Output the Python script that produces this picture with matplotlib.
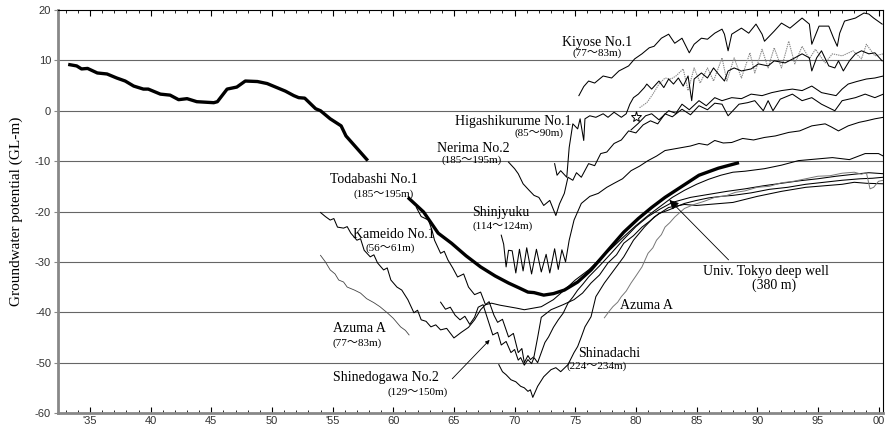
import matplotlib
matplotlib.use("Agg")
import matplotlib.pyplot as plt

# ---- data (year after 1900, groundwater potential GL-m) ----
early_year = [33.2, 33.9, 34.3, 34.8, 35.6, 36.4, 37.2, 37.9, 38.6, 39.4, 39.8, 40.8, 41.6, 42.3, 43.0, 43.8,
              45.2, 45.5, 46.3, 47.1, 47.8, 48.8, 49.6, 50.4, 51.1, 51.8, 52.2, 52.7, 53.6, 54.0, 54.8, 55.7,
              56.1, 57.9]
early_val = [9.2, 8.9, 8.3, 8.4, 7.5, 7.3, 6.5, 5.9, 4.9, 4.3, 4.3, 3.3, 3.1, 2.2, 2.4, 1.8,
             1.6, 1.8, 4.3, 4.7, 5.9, 5.8, 5.4, 4.6, 3.9, 3.0, 2.6, 2.5, 0.4, 0.0, -1.6, -3.0,
             -5.0, -9.9]

tokyo_year = [61.2, 62.5, 63.7, 64.8, 66.0, 67.2, 68.4, 69.5, 70.4, 71.1, 71.6, 72.4, 73.2, 74.1, 75.2,
              76.3, 77.7, 79.0, 80.2, 81.3, 82.4, 83.8, 85.2, 86.8, 88.5]
tokyo_val = [-17.2, -20.1, -24.3, -26.3, -28.8, -31.0, -32.8, -34.2, -35.2, -36.0, -36.1, -36.6, -36.3, -35.6,
             -34.0, -31.6, -27.7, -24.1, -21.4, -19.2, -17.2, -15.0, -12.8, -11.4, -10.3]

kiyose_year = [75.3, 75.7, 76.1, 76.6, 77.3, 78.0, 78.6, 79.4, 79.9, 80.5, 81.1, 81.5, 82.1, 82.7, 83.2, 83.8,
               84.4, 84.8, 85.4, 85.9, 86.5, 87.1, 87.3, 87.6, 87.9, 88.7, 89.3, 89.9, 90.4, 90.6, 91.4, 92.0,
               92.7, 93.1, 93.7, 94.3, 94.5, 95.1, 95.9, 96.3, 96.6, 96.8, 97.2, 98.1, 98.8, 99.2, 99.6, 100.3]
kiyose_val = [3.0, 4.8, 5.9, 5.5, 6.9, 6.5, 7.9, 8.9, 10.3, 11.3, 12.5, 12.8, 14.4, 15.2, 13.4, 14.4,
              11.5, 13.2, 14.4, 14.2, 15.4, 16.2, 15.2, 11.9, 15.2, 16.4, 15.4, 17.2, 15.2, 13.8, 15.8, 17.4,
              16.4, 17.2, 18.4, 17.2, 13.2, 16.8, 16.8, 14.4, 12.8, 15.4, 17.8, 18.4, 19.4, 19.2, 18.4, 17.2]

higashi_year = [73.3, 73.5, 73.8, 74.3, 74.5, 74.8, 75.2, 75.4, 75.7, 75.8, 76.2, 76.7, 77.3, 77.7, 78.2, 78.8,
                79.2, 79.5, 79.8, 80.2, 80.7, 80.9, 81.3, 81.9, 82.3, 82.7, 83.1, 83.5, 83.9, 84.3, 84.6, 84.8,
                85.4, 85.9, 86.4, 86.8, 87.3, 87.6, 88.1, 88.7, 89.5, 90.1, 90.9, 91.4, 92.3, 93.1, 93.7, 94.3,
                94.5, 94.9, 95.3, 95.9, 96.4, 96.7, 97.1, 97.6, 98.1, 98.6, 99.2, 99.7, 100.3]
higashi_val = [-10.5, -12.8, -11.9, -13.2, -7.3, -2.6, -3.6, -1.6, -5.9, -1.6, -1.0, -1.3, -0.6, -1.3, -0.3, -1.3,
               -0.6, 1.3, 2.6, 3.3, 4.6, 5.3, 4.3, 5.9, 4.6, 6.3, 5.3, 6.5, 4.9, 6.9, 2.0, 6.3,
               7.5, 6.5, 8.5, 7.3, 5.9, 7.9, 8.5, 7.9, 8.3, 9.3, 8.9, 9.9, 9.5, 10.5, 11.3, 10.5,
               7.9, 10.5, 11.9, 8.9, 8.5, 9.9, 7.9, 9.9, 11.3, 11.9, 11.3, 11.5, 9.9]

dotted_year = [80.3, 80.9, 81.4, 81.9, 82.4, 82.9, 83.3, 83.9, 84.3, 84.8, 85.3, 85.9, 86.4, 87.1, 87.5, 88.1,
               88.7, 89.4, 89.8, 90.4, 90.9, 91.4, 92.0, 92.6, 93.1, 93.7, 94.3, 94.8, 95.6, 96.2, 97.0, 97.9,
               98.6, 99.0, 99.7, 100.4]
dotted_val = [0.6, 1.6, 3.3, 5.3, 6.5, 6.3, 6.9, 8.3, 4.0, 8.5, 5.5, 8.5, 5.9, 10.5, 5.9, 10.5,
              6.5, 11.5, 7.5, 12.2, 8.5, 12.5, 8.5, 13.8, 9.3, 12.8, 10.3, 12.2, 9.5, 11.3, 10.9, 11.9,
              10.3, 13.2, 10.9, 11.3]

upper_year = [79.6, 80.2, 80.8, 81.3, 81.9, 82.7, 83.3, 83.8, 84.4, 85.2, 85.8, 86.5, 87.1, 87.9, 88.7, 89.5,
              90.4, 91.2, 92.0, 92.9, 93.7, 94.5, 95.3, 95.9, 96.5, 97.0, 97.5, 98.2, 99.0, 99.7, 100.4]
upper_val = [-3.8, -2.5, -1.0, -0.6, -1.8, 0.0, -0.5, 1.3, 0.2, 2.0, 1.0, 2.6, 2.0, 2.6, 2.4, 3.3,
             3.0, 3.6, 4.0, 4.3, 4.0, 4.9, 3.6, 3.3, 3.0, 4.3, 5.3, 5.8, 6.3, 6.5, 6.9]

nerima_year = [69.5, 70.0, 70.3, 70.7, 71.2, 71.6, 72.0, 72.4, 72.9, 73.4, 73.7, 74.1, 74.4, 74.8, 75.1, 75.5,
               76.1, 76.6, 77.1, 77.6, 78.2, 78.8, 79.4, 80.0, 80.6, 81.2, 81.8, 82.4, 83.0, 83.8, 84.5, 85.2,
               85.9, 86.5, 87.1, 87.6, 88.5, 89.2, 89.8, 90.5, 90.9, 91.3, 91.9, 92.9, 93.7, 94.5, 95.3, 96.4,
               97.0, 98.1, 98.9, 99.7, 100.4]
nerima_val = [-10.2, -11.5, -12.5, -14.5, -15.8, -16.8, -17.2, -18.8, -17.8, -20.8, -18.5, -16.4, -13.2, -13.8,
              -12.3, -13.2, -10.5, -10.9, -8.5, -8.2, -6.5, -5.8, -4.0, -4.4, -2.8, -2.0, -2.6, -0.6, -1.2, 0.3,
              -0.8, 1.0, 0.2, 1.5, 1.3, -1.0, 1.3, 1.6, 2.0, 0.0, 2.0, 0.0, 2.3, 3.3, 2.0, 2.6, 1.3, 0.0,
              2.0, 2.6, 3.3, 2.6, 3.3]

shinjyuku_year = [68.9, 69.1, 69.3, 69.5, 69.8, 70.1, 70.4, 70.7, 71.0, 71.4, 71.8, 72.2, 72.6, 72.9, 73.3, 73.6,
                  73.9, 74.2, 74.5, 74.9, 75.5, 76.2, 76.9, 77.6, 78.2, 78.9, 79.6, 80.3, 81.0, 81.7, 82.4, 83.1,
                  83.8, 84.5, 85.2, 85.9, 86.5, 87.2, 87.9, 88.8, 89.7, 90.6, 91.5, 92.6, 93.5, 94.5, 95.6, 96.1,
                  96.7, 97.5, 98.4, 99.0, 99.7, 100.4]
shinjyuku_val = [-24.7, -26.5, -31.0, -27.7, -27.8, -32.2, -27.5, -31.8, -27.2, -32.4, -27.5, -32.0, -28.5, -32.2,
                 -27.4, -31.5, -27.6, -30.0, -25.7, -21.7, -18.4, -17.0, -16.4, -15.2, -14.4, -13.5, -11.9, -11.0,
                 -9.9, -9.0, -7.9, -7.6, -7.3, -7.0, -6.5, -6.8, -5.9, -6.4, -6.3, -5.5, -5.8, -5.3, -5.0, -4.3,
                 -4.0, -3.0, -2.6, -3.2, -4.0, -3.0, -2.3, -2.0, -1.6, -1.3]

kameido_year = [54.0, 54.4, 54.8, 55.1, 55.4, 55.9, 56.2, 56.5, 57.0, 57.3, 57.6, 58.1, 58.4, 58.7, 59.2, 59.5,
                59.8, 60.3, 60.7, 61.2, 61.7, 62.0, 62.3, 62.7, 63.1, 63.5, 63.9, 64.4, 65.0, 65.6, 66.2, 66.7,
                67.2, 67.6, 68.1, 68.8, 69.5, 70.2, 70.8, 71.5, 72.2, 73.2, 74.1, 75.0, 76.1, 77.0, 78.0, 79.0,
                80.0, 81.0, 82.0, 83.0, 84.0, 85.0, 86.0, 87.0, 88.0, 89.0, 90.6, 92.0, 93.4, 94.8, 96.2, 97.6,
                98.9, 100.0, 100.4]
kameido_val = [-20.2, -21.0, -21.7, -21.4, -23.1, -23.3, -23.0, -24.3, -25.7, -25.4, -27.7, -29.0, -28.6, -30.2,
               -31.6, -31.2, -33.6, -35.0, -35.6, -37.5, -40.1, -39.6, -41.5, -41.8, -42.9, -42.5, -43.5, -43.2,
               -45.1, -44.0, -43.0, -41.5, -39.5, -38.5, -38.2, -38.6, -38.9, -39.2, -39.5, -39.2, -38.9, -37.5,
               -35.6, -33.6, -31.6, -29.5, -27.3, -25.0, -22.8, -20.8, -19.0, -17.2, -15.8, -14.6, -13.6, -12.8,
               -12.2, -12.0, -11.5, -10.8, -9.9, -9.6, -9.3, -9.7, -8.5, -8.5, -9.0]

azuma_l_year = [54.0, 54.4, 54.8, 55.2, 55.5, 55.9, 56.2, 56.8, 57.3, 57.8, 58.4, 58.9, 59.5, 60.0, 60.6, 61.0, 61.3]
azuma_l_val = [-28.7, -30.0, -31.6, -32.4, -33.6, -34.0, -35.0, -35.6, -36.2, -37.3, -38.1, -38.9, -40.1, -41.2,
               -42.9, -43.6, -44.5]

azuma_r_year = [77.4, 77.8, 78.1, 78.5, 78.8, 79.2, 79.6, 80.0, 80.5, 81.0, 81.4, 81.7, 82.1, 82.4, 82.8, 83.2,
                84.0, 84.8, 85.6, 86.5, 87.4, 88.2, 89.0, 90.0, 91.0, 92.0, 93.0, 94.0, 95.0, 96.0, 97.0, 98.0,
                98.6, 99.0, 99.3, 99.6, 100.0, 100.4]
azuma_r_val = [-41.1, -39.8, -38.9, -38.0, -36.9, -35.8, -34.2, -32.8, -31.0, -28.3, -27.2, -25.7, -24.6, -23.1,
               -22.2, -21.1, -19.4, -18.6, -18.0, -17.2, -16.9, -16.2, -15.9, -15.2, -15.0, -14.3, -14.0, -13.5,
               -13.0, -12.9, -12.4, -12.2, -12.6, -12.3, -15.5, -15.2, -14.0, -13.8]

todabashi_year = [61.9, 62.3, 62.9, 63.2, 63.4, 63.9, 64.2, 64.5, 64.9, 65.3, 65.8, 66.2, 66.7, 67.2, 67.6, 67.9,
                  68.3, 68.6, 69.0, 69.5, 69.9, 70.3, 70.6, 70.8, 71.1, 71.3, 71.6, 71.9, 72.2, 73.0, 74.0, 74.9,
                  75.6, 76.3, 77.0, 77.7, 78.4, 79.0, 79.8, 80.5, 81.2, 81.9, 82.6, 83.2, 84.0, 85.0, 86.0, 87.0,
                  88.0, 89.5, 91.0, 92.5, 94.0, 95.5, 97.0, 98.5, 99.5, 100.4]
todabashi_val = [-19.2, -21.0, -21.7, -23.8, -25.7, -28.3, -27.9, -29.6, -31.2, -33.0, -32.4, -35.0, -36.5, -36.0,
                 -38.5, -37.9, -40.6, -42.0, -41.4, -44.9, -44.2, -48.0, -47.2, -50.0, -48.6, -49.4, -48.8, -45.0,
                 -41.0, -39.5, -38.5, -37.5, -36.2, -34.2, -32.6, -30.2, -28.6, -26.3, -24.8, -23.1, -21.8, -20.4,
                 -19.8, -19.2, -18.4, -17.8, -17.3, -17.0, -16.8, -16.3, -15.6, -15.2, -14.6, -14.2, -13.8, -13.5,
                 -13.4, -13.2]

shinedo_year = [63.9, 64.3, 64.7, 65.1, 65.5, 65.9, 66.3, 66.7, 67.0, 67.4, 67.8, 68.2, 68.6, 68.9, 69.3, 69.7,
                70.0, 70.3, 70.5, 70.8, 71.1, 71.4, 71.6, 71.9, 72.2, 72.5, 72.8, 73.2, 73.6, 74.0, 74.4, 74.8,
                75.2, 75.6, 76.1, 77.0, 78.0, 79.0, 80.0, 81.0, 82.0, 83.0, 84.5, 86.0, 87.5, 89.0, 90.5, 92.0,
                93.5, 95.0, 96.5, 98.0, 99.2, 100.4]
shinedo_val = [-38.0, -39.4, -39.0, -40.6, -41.5, -40.8, -42.4, -41.0, -39.0, -38.5, -41.5, -44.5, -44.0, -46.5,
               -45.8, -48.0, -47.4, -49.5, -49.0, -50.5, -49.4, -50.2, -49.0, -50.0, -48.0, -46.0, -44.9, -43.0,
               -41.5, -40.2, -38.2, -37.0, -35.6, -34.5, -33.0, -30.8, -28.2, -25.5, -23.0, -21.0, -19.5, -18.2,
               -17.2, -16.6, -16.0, -15.5, -14.9, -14.4, -13.9, -13.5, -13.0, -12.6, -12.3, -12.5]

shinadachi_year = [68.7, 69.0, 69.3, 69.7, 70.1, 70.5, 70.8, 71.1, 71.3, 71.5, 71.9, 72.4, 73.0, 73.4, 73.8, 74.4,
                   74.9, 75.2, 75.5, 75.8, 76.3, 76.7, 77.4, 78.2, 79.0, 79.8, 80.7, 81.5, 82.7, 84.0, 85.0, 86.0,
                   87.0, 88.0, 89.0, 90.0, 91.0, 92.0, 93.0, 94.0, 95.0, 96.0, 97.0, 98.0, 99.0, 100.4]
shinadachi_val = [-50.4, -51.8, -52.4, -53.4, -53.8, -54.7, -55.0, -55.7, -55.4, -56.9, -54.7, -52.8, -51.4, -51.0,
                  -51.8, -50.4, -48.0, -46.8, -44.9, -42.9, -40.9, -36.9, -34.2, -31.6, -29.0, -25.7, -23.1, -21.1,
                  -19.2, -18.6, -18.8, -18.6, -18.4, -18.2, -17.6, -17.0, -16.5, -16.0, -15.6, -15.2, -15.0, -14.8,
                  -14.6, -14.2, -14.4, -14.5]

xtick_pos = [35, 40, 45, 50, 55, 60, 65, 70, 75, 80, 85, 90, 95, 100]
xtick_lab = ["'35", "40", "45", "50", "'55", "60", "65", "70", "75", "80", "85", "90", "95", "00"]
ytick_pos = [-60, -50, -40, -30, -20, -10, 0, 10, 20]

SERIF = ["Liberation Serif", "Noto Sans CJK JP"]

fig = plt.figure(figsize=(8.89, 4.29), dpi=100)
ax = fig.add_axes([58 / 889, 1 - 413 / 429, 825 / 889, 403 / 429])
ax.set_xlim(32.36, 100.37)
ax.set_ylim(-60, 20)

# grid lines
for y in ytick_pos[1:-1]:
    ax.axhline(y, color="#666666", lw=0.8, zorder=1)

thin = dict(color="black", lw=0.75, zorder=3)
ax.plot(kiyose_year, kiyose_val, **thin)
ax.plot(higashi_year, higashi_val, **thin)
ax.plot(dotted_year, dotted_val, color="#888888", lw=0.8, ls=(0, (1.2, 0.8)), zorder=2)
ax.plot(upper_year, upper_val, **thin)
ax.plot(nerima_year, nerima_val, **thin)
ax.plot(shinjyuku_year, shinjyuku_val, **thin)
ax.plot(kameido_year, kameido_val, **thin)
ax.plot(todabashi_year, todabashi_val, **thin)
ax.plot(shinedo_year, shinedo_val, **thin)
ax.plot(shinadachi_year, shinadachi_val, **thin)
ax.plot(azuma_l_year, azuma_l_val, color="#444444", lw=0.6, zorder=3)
ax.plot(azuma_r_year, azuma_r_val, color="#777777", lw=0.7, zorder=3)

# thick lines
ax.plot(early_year, early_val, color="black", lw=2.4, zorder=4, solid_capstyle="butt")
ax.plot(tokyo_year, tokyo_val, color="black", lw=2.4, zorder=4, solid_capstyle="butt")

# star marker
ax.plot([80.0], [-1.2], marker="*", ms=8, mfc="white", mec="black", mew=0.7, zorder=5)

# labels
def lab(x, y, s, size=10):
    ax.text(x, y, s, fontsize=size, family=SERIF, ha="left", va="center", zorder=6)

lab(73.9, 13.6, "Kiyose No.1")
lab(74.8, 11.5, "(77～83m)", 8)
lab(65.1, -2.2, "Higashikurume No.1")
lab(70.0, -4.4, "(85～90m)", 8)
lab(63.6, -7.4, "Nerima No.2")
lab(64.0, -9.8, "(185～195m)", 8)
lab(54.8, -13.7, "Todabashi No.1")
lab(56.7, -16.5, "(185～195m)", 8)
lab(66.5, -20.1, "Shinjyuku")
lab(66.5, -22.9, "(114～124m)", 8)
lab(56.7, -24.6, "Kameido No.1")
lab(57.7, -27.2, "(56～61m)", 8)
lab(55.0, -43.3, "Azuma A")
lab(55.0, -46.1, "(77～83m)", 8)
lab(55.0, -53.0, "Shinedogawa No.2")
lab(59.5, -55.8, "(129～150m)", 8)
lab(75.2, -48.2, "Shinadachi")
lab(74.3, -50.8, "(224～234m)", 8)
lab(78.7, -38.7, "Azuma A")
lab(85.5, -32.0, "Univ. Tokyo deep well")
ax.text(89.6, -34.6, "(380 m)", fontsize=10, family=SERIF, ha="left", va="center", zorder=6)

# arrows
ax.annotate("", xy=(82.6, -17.3), xytext=(87.8, -30.0),
            arrowprops=dict(arrowstyle="-|>", color="black", lw=0.6, mutation_scale=14), zorder=6)
ax.annotate("", xy=(68.1, -45.1), xytext=(64.7, -53.6),
            arrowprops=dict(arrowstyle="-|>", color="black", lw=0.6, mutation_scale=6), zorder=6)

# axes styling
ax.set_xticks(xtick_pos)
ax.set_xticklabels(xtick_lab)
ax.set_xticks(range(33, 101), minor=True)
ax.set_yticks(ytick_pos)
ax.set_yticklabels([str(v) for v in ytick_pos])
ax.tick_params(axis="x", which="both", direction="in", top=True, bottom=True,
               labelsize=8, labelcolor="#333333", pad=2)
ax.tick_params(axis="x", which="major", length=4, width=0.8)
ax.tick_params(axis="x", which="minor", length=2.5, width=0.6)
ax.tick_params(axis="y", direction="out", length=3, color="#888888",
               labelsize=8, labelcolor="#333333", pad=2)
for t in ax.get_xticklabels() + ax.get_yticklabels():
    t.set_family(["Liberation Sans", "DejaVu Sans"])

ax.spines["left"].set_color("#888888")
ax.spines["left"].set_linewidth(2)
ax.spines["bottom"].set_color("#888888")
ax.spines["bottom"].set_linewidth(2)
ax.spines["top"].set_linewidth(0.8)
ax.spines["right"].set_linewidth(0.8)

ax.set_ylabel("Groundwater potential (GL-m)", fontsize=11, family=SERIF)
ax.yaxis.set_label_coords(-0.043, 0.5)

fig.savefig("out.png", dpi=100)
